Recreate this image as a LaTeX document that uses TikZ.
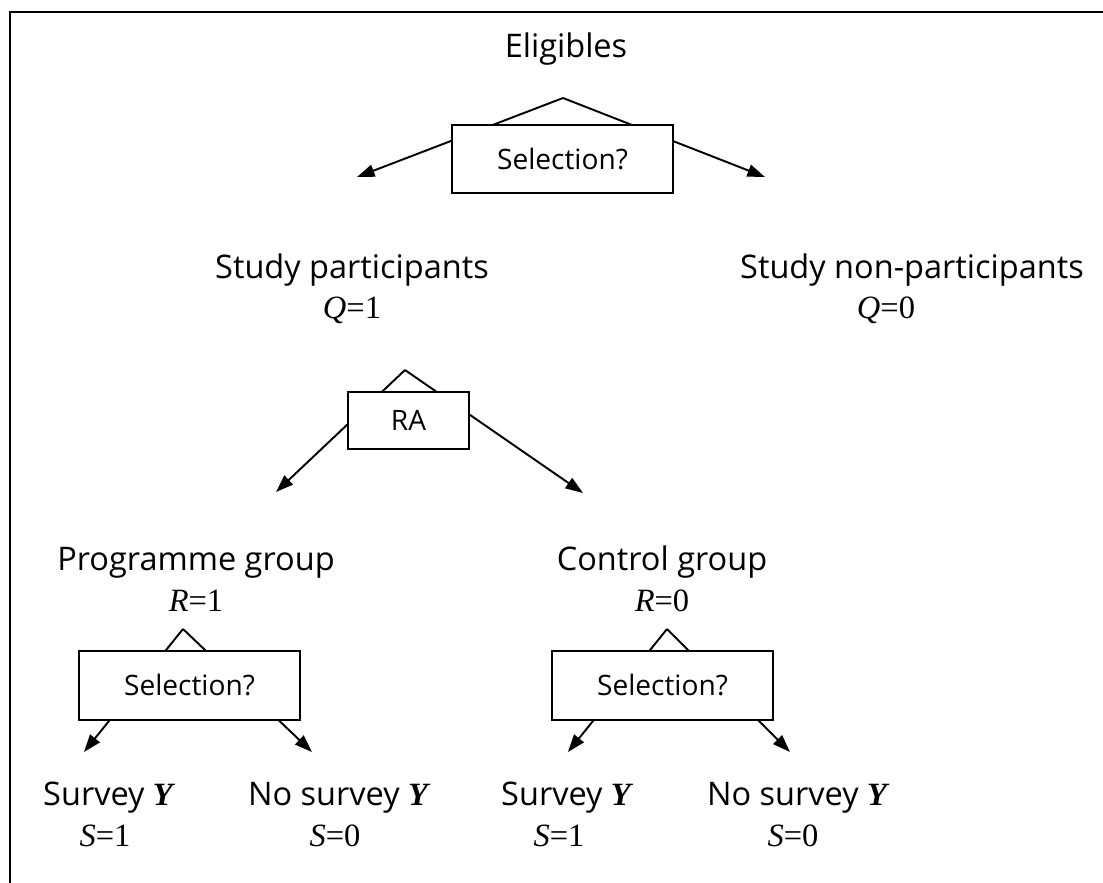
\documentclass[tikz,border=0pt]{standalone}
\usepackage{fontspec}
\setmainfont{Open Sans}
\newfontfamily\varfont{Liberation Serif}
\usetikzlibrary{arrows.meta, backgrounds}
\newcommand{\eqvar}[2]{{\varfont\textit{#1}=#2}}
\newcommand{\yvar}{{\varfont\bfseries\itshape Y}}

\begin{document}
\begin{tikzpicture}[x=0.02cm, y=-0.02cm, font=\fontsize{18.5}{21}\selectfont,
    selbox/.style={draw, line width=1.3pt, fill=white, inner sep=0pt, font=\fontsize{16}{19}\selectfont},
    arr/.style={-{Triangle[length=10pt, width=7pt]}, line width=1.1pt},
    lbl/.style={anchor=base, inner sep=0pt}]
    \useasboundingbox (0,0) rectangle (1103,883);
    \draw[line width=1.7pt] (1103,12) -- (10,12) -- (10,883);

    % Nodes
    \node (elig) at (566,57) [lbl] {Eligibles};
    \node (sel) at (562.5,159) [selbox, minimum width=4.42cm, minimum height=1.36cm] {Selection?};

    \node (part) at (352,278) [lbl] {Study participants};
    \node (q1) at (352,318) [lbl] {\eqvar{Q}{1}};
    \node (nonpart) at (912,278) [lbl] {Study non-participants};
    \node (q0) at (886,318) [lbl] {\eqvar{Q}{0}};

    \node (ra) at (408.5,420.5) [selbox, minimum width=2.42cm, minimum height=1.14cm] {RA};

    \node (prog) at (196,570) [lbl] {Programme group};
    \node (r1) at (196,611) [lbl] {\eqvar{R}{1}};
    \node (ctrl) at (662,570) [lbl] {Control group};
    \node (r0) at (662,611) [lbl] {\eqvar{R}{0}};

    \node (selp) at (189.5,685.5) [selbox, minimum width=4.42cm, minimum height=1.38cm] {Selection?};
    \node (selc) at (662.5,685.5) [selbox, minimum width=4.42cm, minimum height=1.38cm] {Selection?};

    \node (survp) at (108,805) [lbl] {Survey \yvar};
    \node (s1p) at (105,846) [lbl] {\eqvar{S}{1}};
    \node (nosurvp) at (338,805) [lbl] {No survey \yvar};
    \node (s0p) at (335,846) [lbl] {\eqvar{S}{0}};
    \node (survc) at (566,805) [lbl] {Survey \yvar};
    \node (s1c) at (559,846) [lbl] {\eqvar{S}{1}};
    \node (nosurvc) at (797,805) [lbl] {No survey \yvar};
    \node (s0c) at (793,846) [lbl] {\eqvar{S}{0}};

    % apexes and arrow ends
    \coordinate (selt) at (563,98);
    \coordinate (selL) at (357,177);
    \coordinate (selR) at (765,177);
    \coordinate (rat) at (405,370);
    \coordinate (raL) at (276,492);
    \coordinate (raR) at (583,493);
    \coordinate (selpt) at (183,629);
    \coordinate (selpL) at (84,752);
    \coordinate (selpR) at (312,752);
    \coordinate (selct) at (667,629);
    \coordinate (selcL) at (568,752);
    \coordinate (selcR) at (790,752);

    % Edges
    \begin{scope}[on background layer]
    \draw[arr] (selt) -- (selL);
    \draw[arr] (selt) -- (selR);
    \draw[arr] (rat) -- (raL);
    \draw[arr] (rat) -- (raR);
    \draw[arr] (selpt) -- (selpL);
    \draw[arr] (selpt) -- (selpR);
    \draw[arr] (selct) -- (selcL);
    \draw[arr] (selct) -- (selcR);
    \end{scope}
\end{tikzpicture}
\end{document}
